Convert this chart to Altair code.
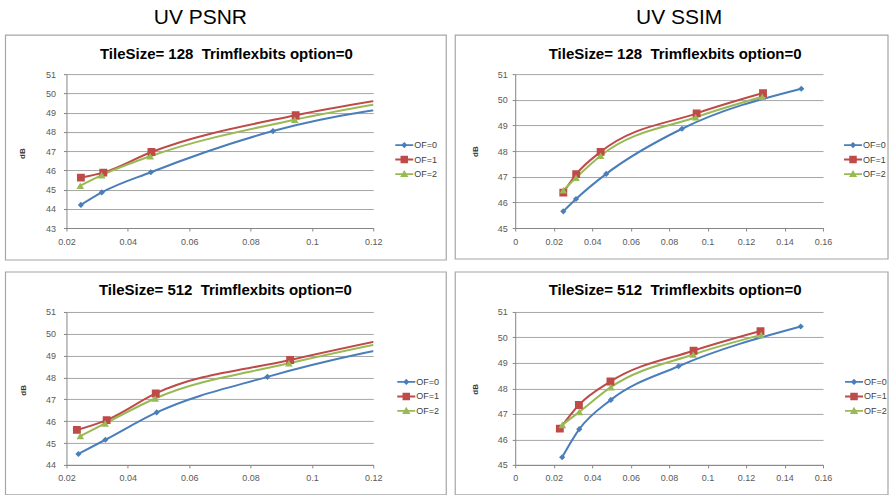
import altair as alt
import pandas as pd

# ---- series definitions -------------------------------------------------
SERIES = ["OF=0", "OF=1", "OF=2"]
COLORS = ["#4a7ebb", "#be4b48", "#98b954"]
SHAPES = ["diamond", "square", "triangle-up"]
MARKER_SIZES = [38, 62, 58]

# ---- UV PSNR, tile size 128 ---------------------------------------------
psnr128_of0_rate = [0.0247, 0.0315, 0.0475, 0.0873, 0.1487]
psnr128_of0_db = [44.2, 44.85, 45.9, 48.04, 49.72]
psnr128_of1_rate = [0.0247, 0.0320, 0.0477, 0.0947, 0.1288]
psnr128_of1_db = [45.62, 45.88, 46.95, 48.86, 49.82]
psnr128_of2_rate = [0.0245, 0.0315, 0.0473, 0.0944, 0.1284]
psnr128_of2_db = [45.2, 45.75, 46.73, 48.63, 49.65]

# ---- UV SSIM, tile size 128 ---------------------------------------------
ssim128_of0_rate = [0.0250, 0.0316, 0.0473, 0.0867, 0.1487]
ssim128_of0_db = [45.65, 46.13, 47.11, 48.87, 50.43]
ssim128_of1_rate = [0.0250, 0.0317, 0.0444, 0.0943, 0.1288]
ssim128_of1_db = [46.38, 47.1, 47.97, 49.47, 50.26]
ssim128_of2_rate = [0.0250, 0.0316, 0.0444, 0.0938, 0.1284]
ssim128_of2_db = [46.47, 46.96, 47.82, 49.32, 50.12]

# ---- UV PSNR, tile size 512 ---------------------------------------------
psnr512_of0_rate = [0.0239, 0.0327, 0.0494, 0.0855, 0.1484]
psnr512_of0_db = [44.5, 45.15, 46.4, 48.03, 50.0]
psnr512_of1_rate = [0.0234, 0.0331, 0.0491, 0.0929, 0.1275]
psnr512_of1_db = [45.6, 46.05, 47.27, 48.8, 49.85]
psnr512_of2_rate = [0.0245, 0.0326, 0.0489, 0.0925, 0.1278]
psnr512_of2_db = [45.32, 45.9, 47.04, 48.65, 49.72]

# ---- UV SSIM, tile size 512 ---------------------------------------------
ssim512_of0_rate = [0.0244, 0.0333, 0.0497, 0.0849, 0.1484]
ssim512_of0_db = [45.3, 46.4, 47.55, 48.87, 50.43]
ssim512_of1_rate = [0.0232, 0.0331, 0.0495, 0.0927, 0.1275]
ssim512_of1_db = [46.42, 47.35, 48.27, 49.48, 50.25]
ssim512_of2_rate = [0.0245, 0.0333, 0.0497, 0.0925, 0.1278]
ssim512_of2_db = [46.57, 47.08, 48.05, 49.33, 50.1]

# ---- axis ticks ---------------------------------------------------------
psnr_rate_ticks = [0.02, 0.04, 0.06, 0.08, 0.1, 0.12]
ssim_rate_ticks = [0, 0.02, 0.04, 0.06, 0.08, 0.1, 0.12, 0.14, 0.16]
db_ticks_43 = [43, 44, 45, 46, 47, 48, 49, 50, 51]
db_ticks_44 = [44, 45, 46, 47, 48, 49, 50, 51]
db_ticks_45 = [45, 46, 47, 48, 49, 50, 51]

FONT = "Liberation Sans Narrow, Liberation Sans, sans-serif"
SMALL_FONT = "Liberation Sans, sans-serif"
FRAME_COLOR = "#a6a6a6"
NBSP = "\u00a0"

# legend glyph: short line with the series marker in its middle
GLYPHS = {
    "OF=0": "M-1.2,-0.12H1.2V0.12H-1.2Z M0,-0.42L0.42,0L0,0.42L-0.42,0Z",
    "OF=1": "M-1.2,-0.13H1.2V0.13H-1.2Z M-0.5,-0.5H0.5V0.5H-0.5Z",
    "OF=2": "M-1.2,-0.12H1.2V0.12H-1.2Z M0,-0.55L0.55,0.4H-0.55Z",
}
GLYPH_EXPR = (
    f"datum.value === 'OF=0' ? '{GLYPHS['OF=0']}' : "
    f"datum.value === 'OF=1' ? '{GLYPHS['OF=1']}' : '{GLYPHS['OF=2']}'"
)
GLYPH_COLOR_EXPR = (
    f"datum.value === 'OF=0' ? '{COLORS[0]}' : "
    f"datum.value === 'OF=1' ? '{COLORS[1]}' : '{COLORS[2]}'"
)


def series_frame(rates, dbs):
    rows = []
    for name, r, d in zip(SERIES, rates, dbs):
        for rv, dv in zip(r, d):
            rows.append({"series": name, "rate": rv, "db": dv})
    return pd.DataFrame(rows)


def panel(df, x_domain, x_ticks, y_domain, y_ticks, title, heading,
          size, frame, title_pos, heading_pos, legend_pos, ylab_pad, db_pos):
    w, h = size
    one = pd.DataFrame({"k": [0]})

    legend = alt.Legend(
        title=None, orient="none", legendX=legend_pos[0], legendY=legend_pos[1],
        padding=0, rowPadding=1.5, symbolSize=225,
        symbolType={"expr": GLYPH_EXPR},
        symbolFillColor={"expr": GLYPH_COLOR_EXPR},
        symbolStrokeColor={"expr": GLYPH_COLOR_EXPR},
        symbolStrokeWidth=0, symbolOpacity=1,
        labelFont=SMALL_FONT, labelFontSize=9, labelColor="#404040",
        labelOffset=2.5,
    )
    x = alt.X(
        "rate:Q",
        scale=alt.Scale(domain=x_domain, nice=False, zero=False),
        axis=alt.Axis(values=x_ticks, grid=False, title=None,
                      labelExpr="format(datum.value, '.2~f')",
                      tickSize=3, labelPadding=6, labelFlush=False,
                      labelOverlap=False, labelBound=False),
    )
    y = alt.Y(
        "db:Q",
        scale=alt.Scale(domain=y_domain, nice=False, zero=False),
        axis=alt.Axis(values=y_ticks, title="dB", tickSize=3, format="d",
                      labelPadding=ylab_pad, labelFlush=False, labelOverlap=False,
                      titleX=db_pos[0], titleY=db_pos[1],
                      titleAngle=270, titleAlign="center", titleBaseline="middle",
                      titleFont=SMALL_FONT, titleFontSize=8, titleFontWeight="bold",
                      titleColor="#333333"),
    )
    color = alt.Color("series:N", scale=alt.Scale(domain=SERIES, range=COLORS),
                      legend=legend)

    border = alt.Chart(one).mark_rect(
        fill="transparent", stroke=FRAME_COLOR, strokeWidth=1.2
    ).encode(x=alt.value(frame[0]), x2=alt.value(frame[1]),
             y=alt.value(frame[2]), y2=alt.value(frame[3]))

    lines = alt.Chart(df).mark_line(
        interpolate="monotone", strokeWidth=2, clip=True
    ).encode(x=x, y=y, color=color)

    # one marker layer per series so each keeps its own glyph
    markers = [
        alt.Chart(df).transform_filter(alt.datum.series == name).mark_point(
            shape=shape, size=msize, filled=True, opacity=1, clip=True
        ).encode(x=x, y=y, color=color)
        for name, shape, msize in zip(SERIES, SHAPES, MARKER_SIZES)
    ]

    title_txt = alt.Chart(one).mark_text(
        text=title, font=FONT, fontSize=15, fontWeight="bold", color="#000000",
        baseline="middle", align="center"
    ).encode(x=alt.value(title_pos[0]), y=alt.value(title_pos[1]))

    layers = [border, lines, *markers, title_txt]
    if heading:
        layers.append(alt.Chart(one).mark_text(
            text=heading, font=FONT, fontSize=21, color="#000000",
            baseline="middle", align="center"
        ).encode(x=alt.value(heading_pos[0]), y=alt.value(heading_pos[1])))

    return alt.layer(*layers).properties(width=w, height=h)


T128 = f"TileSize= 128{NBSP} Trimflexbits option=0"
T512 = f"TileSize= 512{NBSP} Trimflexbits option=0"

tl = panel(
    series_frame([psnr128_of0_rate, psnr128_of1_rate, psnr128_of2_rate],
                 [psnr128_of0_db, psnr128_of1_db, psnr128_of2_db]),
    [0.02, 0.12], psnr_rate_ticks, [43, 51], db_ticks_43, T128, "UV PSNR",
    (307, 154), (-61, 380, -39, 186), (160, -20), (134, -56), (330.5, 63.5), 8, (-44, 79),
)
tr = panel(
    series_frame([ssim128_of0_rate, ssim128_of1_rate, ssim128_of2_rate],
                 [ssim128_of0_db, ssim128_of1_db, ssim128_of2_db]),
    [0, 0.16], ssim_rate_ticks, [45, 51], db_ticks_45, T128, "UV SSIM",
    (308, 154), (-60, 373, -39, 185), (160, -20), (164, -56), (330.5, 63.5), 5, (-40, 77),
)
bl = panel(
    series_frame([psnr512_of0_rate, psnr512_of1_rate, psnr512_of2_rate],
                 [psnr512_of0_db, psnr512_of1_db, psnr512_of2_db]),
    [0.02, 0.12], psnr_rate_ticks, [44, 51], db_ticks_44, T512, None,
    (307, 153), (-61, 380, -40, 183), (159, -22), None, (332.5, 62.5), 8, (-43, 78),
)
br = panel(
    series_frame([ssim512_of0_rate, ssim512_of1_rate, ssim512_of2_rate],
                 [ssim512_of0_db, ssim512_of1_db, ssim512_of2_db]),
    [0, 0.16], ssim_rate_ticks, [45, 51], db_ticks_45, T512, None,
    (308, 153), (-60, 373, -40, 183), (160, -22), None, (331.5, 62.5), 5, (-40, 77),
)


def independent(c):
    return c.resolve_scale(color="independent").resolve_legend(color="independent")


top_row = independent(alt.hconcat(tl, tr, spacing=7))
bottom_row = independent(alt.hconcat(bl, br, spacing=7))

chart = independent(alt.vconcat(top_row, bottom_row, spacing=10)).properties(
    padding={"left": 4.5, "top": 7, "right": 0, "bottom": 0},
    background="#ffffff",
).configure_view(stroke=None).configure_axis(
    labelFont=SMALL_FONT, labelFontSize=9, labelColor="#595959",
    domainColor="#868686", tickColor="#868686",
    gridColor="#a6a6a6", gridWidth=1,
)

chart.save("out.html", embed_options={"renderer": "svg", "actions": False})
